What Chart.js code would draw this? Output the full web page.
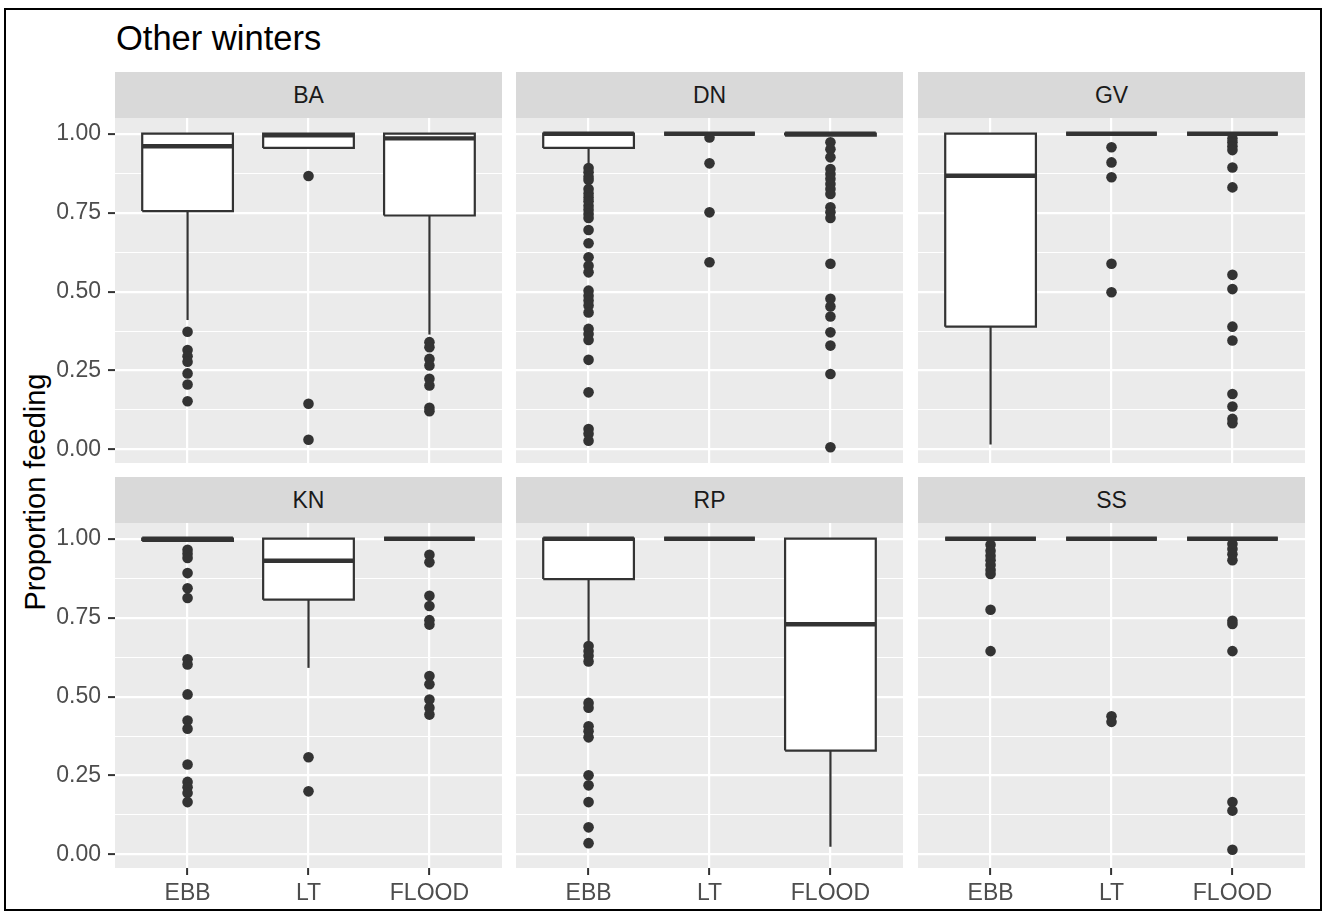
<!DOCTYPE html>
<html>
<head>
<meta charset="utf-8">
<script src="https://cdn.jsdelivr.net/npm/chart.js@4.4.1/dist/chart.umd.min.js"></script>
<style>
  html, body { margin: 0; padding: 0; background: #ffffff; }
  #fig { position: relative; width: 1324px; height: 913px; overflow: hidden;
         font-family: "Liberation Sans", Arial, sans-serif; }
  .frame { position: absolute; left: 4px; top: 8px; width: 1318px; height: 903px;
           border: 2px solid #000; box-sizing: border-box; }
  .title { position: absolute; left: 116px; top: 21px; font-size: 34.5px; line-height: 34px;
           color: #000; white-space: nowrap; }
  .strip { position: absolute; background: #D9D9D9; color: #1A1A1A; font-size: 23px;
           display: flex; align-items: center; justify-content: center; }
  .ylab { position: absolute; left: 35px; top: 492px; font-size: 29px; color: #000;
          white-space: nowrap; transform: translate(-50%, -50%) rotate(-90deg); }
  canvas { position: absolute; }
</style>
</head>
<body>
<div id="fig">
  <div class="frame"></div>
  <div class="title">Other winters</div>
  <div class="ylab">Proportion feeding</div>
</div>
<script>
// Facet order and x categories
const sites = ['BA', 'DN', 'GV', 'KN', 'RP', 'SS'];
const tides = ['EBB', 'LT', 'FLOOD'];
const yTicks = [0, 0.25, 0.5, 0.75, 1];

// Box statistics per tide: [lower whisker, Q1, median, Q3, upper whisker]
const BA_box = [[0.410, 0.755, 0.960, 1.0, 1.0], [0.955, 0.955, 0.995, 1.0, 1.0], [0.364, 0.741, 0.985, 1.0, 1.0]];
const DN_box = [[0.904, 0.955, 1.0, 1.0, 1.0], [1.0, 1.0, 1.0, 1.0, 1.0], [0.994, 0.994, 1.0, 1.0, 1.0]];
const GV_box = [[0.016, 0.389, 0.867, 1.0, 1.0], [1.0, 1.0, 1.0, 1.0, 1.0], [1.0, 1.0, 1.0, 1.0, 1.0]];
const KN_box = [[0.993, 0.993, 1.0, 1.0, 1.0], [0.591, 0.807, 0.930, 1.0, 1.0], [1.0, 1.0, 1.0, 1.0, 1.0]];
const RP_box = [[0.676, 0.872, 1.0, 1.0, 1.0], [1.0, 1.0, 1.0, 1.0, 1.0], [0.025, 0.329, 0.729, 1.0, 1.0]];
const SS_box = [[1.0, 1.0, 1.0, 1.0, 1.0], [1.0, 1.0, 1.0, 1.0, 1.0], [1.0, 1.0, 1.0, 1.0, 1.0]];

// Outlying observations per tide
const BA_out = [
  [0.373, 0.315, 0.295, 0.278, 0.241, 0.206, 0.153],
  [0.866, 0.145, 0.031],
  [0.340, 0.324, 0.287, 0.266, 0.224, 0.203, 0.132, 0.121]
];
const DN_out = [
  [0.891, 0.878, 0.864, 0.853, 0.825, 0.811, 0.798, 0.786, 0.772, 0.759, 0.746, 0.733, 0.695,
   0.653, 0.609, 0.582, 0.561, 0.503, 0.487, 0.472, 0.456, 0.434, 0.382, 0.366, 0.347, 0.284,
   0.181, 0.065, 0.050, 0.028],
  [0.988, 0.906, 0.751, 0.593],
  [0.973, 0.951, 0.925, 0.888, 0.872, 0.857, 0.841, 0.825, 0.809, 0.767, 0.751, 0.733, 0.588,
   0.477, 0.453, 0.421, 0.371, 0.329, 0.239, 0.007]
];
const GV_out = [
  [],
  [0.957, 0.909, 0.862, 0.588, 0.498],
  [0.985, 0.973, 0.960, 0.948, 0.893, 0.830, 0.553, 0.508, 0.389, 0.345, 0.176, 0.136, 0.097, 0.083]
];
const KN_out = [
  [0.965, 0.952, 0.939, 0.891, 0.843, 0.812, 0.618, 0.602, 0.507, 0.424, 0.398, 0.285, 0.230,
   0.213, 0.195, 0.166],
  [0.308, 0.200],
  [0.949, 0.925, 0.819, 0.787, 0.742, 0.728, 0.565, 0.539, 0.491, 0.465, 0.443]
];
const RP_out = [
  [0.660, 0.644, 0.629, 0.611, 0.480, 0.465, 0.406, 0.390, 0.371, 0.251, 0.219, 0.166, 0.086, 0.036],
  [],
  []
];
const SS_out = [
  [0.981, 0.962, 0.946, 0.932, 0.917, 0.901, 0.888, 0.775, 0.644],
  [0.438, 0.420],
  [0.983, 0.967, 0.951, 0.932, 0.740, 0.730, 0.644, 0.166, 0.139, 0.015]
];

const boxes = [BA_box, DN_box, GV_box, KN_box, RP_box, SS_box];
const outliers = [BA_out, DN_out, GV_out, KN_out, RP_out, SS_out];

// Panel geometry (px)
const FONT = '"Liberation Sans", Arial, sans-serif';
const colX = [115, 516, 918];
const stripTop = [72, 477];
const STRIP_H = 46;
const PANEL_W = 387;
const PANEL_H = 345;
const INK = '#333333';
const BOX_HALF = 0.375;

// Shared y range: data range expanded by 5% on each side
const allVals = [];
boxes.forEach(b => b.forEach(s => allVals.push(...s)));
outliers.forEach(o => o.forEach(a => allVals.push(...a)));
const dMin = Math.min(...allVals), dMax = Math.max(...allVals);
const yMin = dMin - 0.05 * (dMax - dMin);
const yMax = dMax + 0.05 * (dMax - dMin);
const gridBreaks = [];
for (let k = 0; k <= 8; k++) gridBreaks.push(k / 8);
const isMajor = v => yTicks.some(t => Math.abs(t - v) < 1e-9);

const panelBg = {
  id: 'panelBg',
  beforeDraw(chart) {
    const { ctx, chartArea: a } = chart;
    ctx.save();
    ctx.fillStyle = '#EBEBEB';
    ctx.fillRect(a.left, a.top, a.right - a.left, a.bottom - a.top);
    ctx.restore();
  }
};

// Keep the plotting area fixed: no label overhang padding
const noPad = s => { s.paddingLeft = 0; s.paddingRight = 0; s.paddingTop = 0; s.paddingBottom = 0; };

function buildDatasets(stats, outs) {
  const ds = [];
  stats.forEach((s, i) => {
    const x = i + 1;
    const [lo, q1, med, q3, hi] = s;
    ds.push({
      data: outs[i].map(v => ({ x, y: v })),
      showLine: false, pointRadius: 5.3, pointBackgroundColor: INK, pointBorderWidth: 0, order: 4
    });
    ds.push({
      data: [{ x, y: lo }, { x, y: hi }],
      borderColor: INK, borderWidth: 2.2, pointRadius: 0, order: 3
    });
    ds.push({
      data: [{ x: x - BOX_HALF, y: q1 }, { x: x + BOX_HALF, y: q1 }, { x: x + BOX_HALF, y: q3 },
             { x: x - BOX_HALF, y: q3 }, { x: x - BOX_HALF, y: q1 }],
      fill: 'shape', backgroundColor: '#FFFFFF', borderColor: INK, borderWidth: 2.2,
      borderJoinStyle: 'miter', pointRadius: 0, order: 2
    });
    ds.push({
      data: [{ x: x - BOX_HALF, y: med }, { x: x + BOX_HALF, y: med }],
      borderColor: INK, borderWidth: 4.4, borderCapStyle: 'butt', pointRadius: 0, order: 1
    });
  });
  return ds;
}

const fig = document.getElementById('fig');

sites.forEach((site, idx) => {
  const r = Math.floor(idx / 3), c = idx % 3;
  const showY = c === 0, showX = r === 1;
  const panelTop = stripTop[r] + STRIP_H;

  const strip = document.createElement('div');
  strip.className = 'strip';
  strip.style.left = colX[c] + 'px';
  strip.style.top = stripTop[r] + 'px';
  strip.style.width = PANEL_W + 'px';
  strip.style.height = STRIP_H + 'px';
  strip.textContent = site;
  fig.appendChild(strip);

  const left = showY ? 10 : colX[c];
  const yAxisW = colX[c] - left;
  const xAxisH = showX ? 45 : 0;
  const cv = document.createElement('canvas');
  cv.width = colX[c] + PANEL_W - left;
  cv.height = PANEL_H + xAxisH;
  cv.style.left = left + 'px';
  cv.style.top = panelTop + 'px';
  cv.style.width = cv.width + 'px';
  cv.style.height = cv.height + 'px';
  fig.appendChild(cv);

  new Chart(cv.getContext('2d'), {
    type: 'line',
    data: { datasets: buildDatasets(boxes[idx], outliers[idx]) },
    options: {
      responsive: false,
      animation: false,
      events: [],
      devicePixelRatio: 1,
      layout: { padding: 0, autoPadding: false },
      plugins: {
        legend: { display: false },
        tooltip: { enabled: false },
        filler: { drawTime: 'beforeDatasetDraw' }
      },
      scales: {
        x: {
          type: 'linear', min: 0.4, max: 3.6, bounds: 'data',
          afterBuildTicks: s => { s.ticks = tides.map((t, i) => ({ value: i + 1 })); },
          afterFit: s => { s.height = xAxisH; noPad(s); },
          ticks: {
            display: showX, autoSkip: false, maxRotation: 0, padding: 5,
            color: '#4D4D4D', font: { size: 23, family: FONT },
            callback: v => tides[Math.round(v) - 1]
          },
          grid: {
            color: '#FFFFFF', lineWidth: 2.2, drawTicks: showX, tickLength: 7,
            tickColor: INK, tickWidth: 2
          },
          border: { display: false }
        },
        y: {
          type: 'linear', min: yMin, max: yMax, bounds: 'data',
          afterBuildTicks: s => { s.ticks = gridBreaks.map(v => ({ value: v })); },
          afterFit: s => { s.width = yAxisW; noPad(s); },
          ticks: {
            display: showY, autoSkip: false, padding: 7,
            color: '#4D4D4D', font: { size: 23, family: FONT },
            callback: v => isMajor(v) ? v.toFixed(2) : ''
          },
          grid: {
            color: '#FFFFFF',
            lineWidth: ctx => isMajor(ctx.tick.value) ? 2.2 : 1.1,
            drawTicks: showY, tickLength: 7, tickWidth: 2,
            tickColor: ctx => isMajor(ctx.tick.value) ? INK : 'rgba(0,0,0,0)'
          },
          border: { display: false }
        }
      }
    },
    plugins: [panelBg]
  });
});
</script>
</body>
</html>
